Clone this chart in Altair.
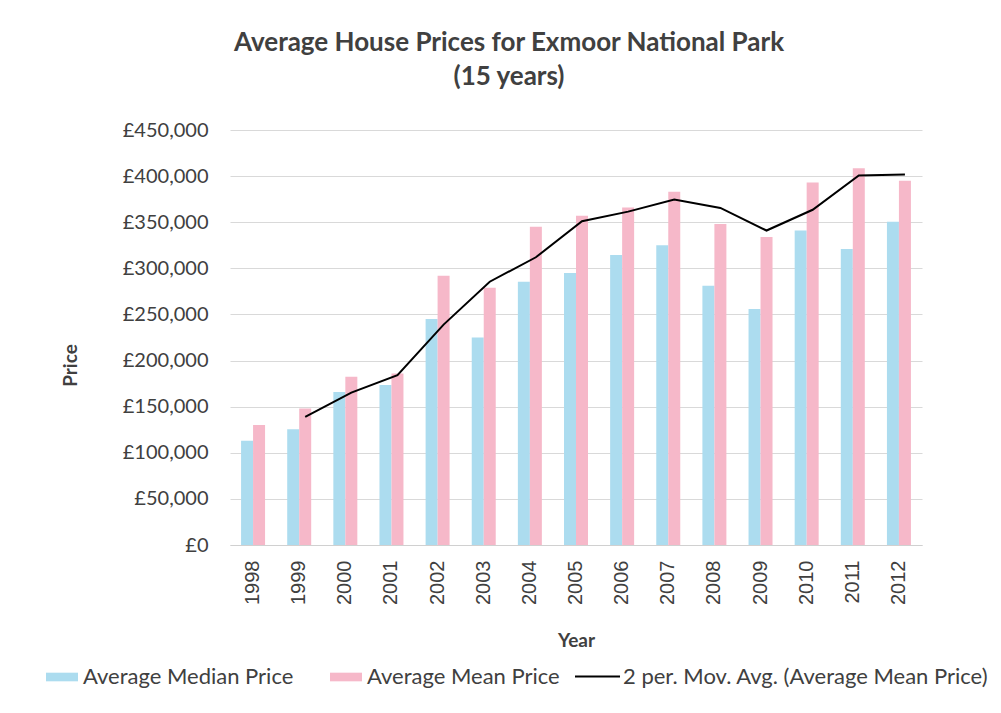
import altair as alt
import pandas as pd

years = [str(y) for y in range(1998, 2013)]
median_price = [113000, 125500, 166000, 173500, 245000, 225000, 285500, 295000,
                314500, 325000, 281000, 256000, 341000, 321000, 350500]
mean_price = [130000, 148000, 182500, 186000, 292000, 279000, 345000, 357000,
              366000, 383000, 348000, 334000, 393000, 408500, 395000]

S_MED = "Average Median Price"
S_MEAN = "Average Mean Price"
S_MA = "2 per. Mov. Avg. (Average Mean Price)"
bar_series = [S_MED, S_MEAN]
bar_colors = ["#acdcef", "#f6b8c9"]

rows = []
for y, md, mn in zip(years, median_price, mean_price):
    rows.append({"Year": y, "series": S_MED, "Price": md})
    rows.append({"Year": y, "series": S_MEAN, "Price": mn})
long_df = pd.DataFrame(rows)
wide_df = pd.DataFrame({"Year": years, "Mean": mean_price})

FONT = "Lato"
TXT = "#404040"

x_enc = alt.X("Year:N", sort=years,
              scale=alt.Scale(paddingInner=0.48, paddingOuter=0.24),
              axis=alt.Axis(title="Year", labelAngle=-90, labelAlign="right",
                            labelBaseline="middle", labelFont="Liberation Sans",
                            labelFontSize=20, labelColor=TXT, labelPadding=15,
                            ticks=False, domainColor="#d0d0d0", titleFont=FONT,
                            titleFontSize=19, titleFontWeight="bold",
                            titleColor=TXT, titlePadding=27, grid=False))

y_enc = alt.Y("Price:Q", scale=alt.Scale(domain=[0, 450000], nice=False),
              axis=alt.Axis(title="Price", values=list(range(0, 450001, 50000)),
                            labelExpr="'£' + format(datum.value, ',')",
                            labelFont=FONT, labelFontSize=20, labelColor=TXT,
                            labelPadding=22, ticks=False, domain=False,
                            gridColor="#d9d9d9", titleFont=FONT,
                            titleFontSize=19, titleFontWeight="bold",
                            titleColor=TXT, titleX=-160, titleY=235,
                            titleBaseline="middle"))

bar_legend = alt.Legend(
    title=None, orient="none", direction="horizontal",
    legendX=-184, legendY=531, labelFont=FONT, labelFontSize=22,
    labelColor=TXT, columnPadding=36, labelOffset=5, symbolSize=1024,
    labelLimit=0,
    symbolType="M-1,-0.27H1V0.27H-1Z", symbolStrokeWidth=0, symbolOpacity=1)

line_legend = alt.Legend(
    title=None, orient="none", direction="horizontal",
    legendX=344, legendY=523, labelFont=FONT, labelFontSize=22,
    labelColor=TXT, labelOffset=2, symbolSize=2025, symbolType="stroke",
    labelLimit=0,
    symbolStrokeWidth=2, symbolStrokeColor="#000000")

bars = alt.Chart(long_df).mark_bar(opacity=1).encode(
    x=x_enc,
    xOffset=alt.XOffset("series:N", sort=bar_series,
                        scale=alt.Scale(paddingInner=0, paddingOuter=0)),
    y=y_enc,
    color=alt.Color("series:N", sort=bar_series,
                    scale=alt.Scale(domain=bar_series, range=bar_colors),
                    legend=bar_legend),
)

line = alt.Chart(wide_df).transform_window(
    window=[{"op": "mean", "field": "Mean", "as": "ma"},
            {"op": "count", "as": "n"}],
    frame=[-1, 0], sort=[{"field": "Year"}]
).transform_filter("datum.n == 2").transform_calculate(
    series="'" + S_MA + "'"
).mark_line(strokeWidth=2, xOffset=6).encode(
    x=alt.X("Year:N", sort=years),
    y=alt.Y("ma:Q"),
    stroke=alt.Stroke("series:N",
                      scale=alt.Scale(domain=[S_MA], range=["#000000"]),
                      legend=line_legend),
)

chart = alt.layer(bars, line).properties(
    width=692, height=415,
    background="white",
    padding={"left": 38, "top": 22, "right": 0, "bottom": 5},
    title=alt.Title(["Average House Prices for Exmoor National Park", "(15 years)"],
                    font=FONT, fontSize=26, fontWeight="bold", color=TXT,
                    lineHeight=34, anchor="middle", frame="group", dx=-67,
                    offset=30),
).configure_view(stroke="transparent", strokeWidth=0)

chart.save("out.html", embed_options={"renderer": "svg", "actions": False})
